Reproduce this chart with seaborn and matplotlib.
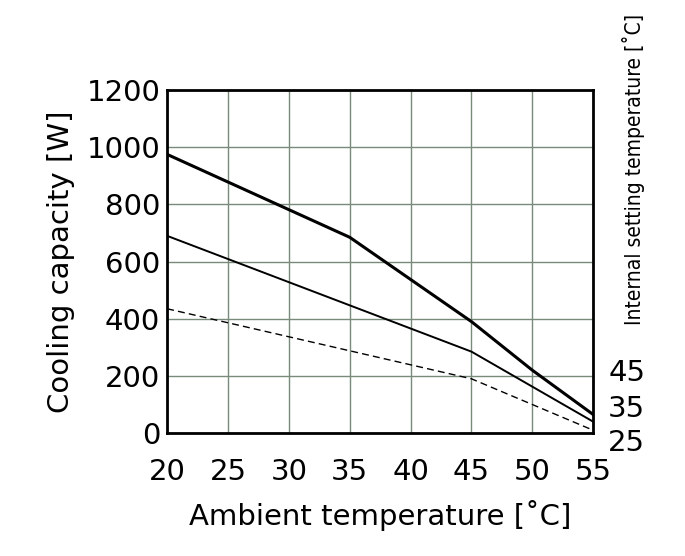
import matplotlib
matplotlib.use("Agg")
import matplotlib.pyplot as plt
import seaborn as sns
import pandas as pd

# data
ambient = [20, 35, 45, 50, 55]
cap_45 = [975, 685, 390, 220, 65]
ambient_mid = [20, 45, 55]
cap_35 = [690, 285, 40]
cap_25 = [435, 190, 10]
set_labels = ["45", "35", "25"]

sns.set_style("white")
plt.rcParams["font.family"] = "DejaVu Sans"
plt.rcParams["text.color"] = "black"
plt.rcParams["xtick.color"] = "black"
plt.rcParams["ytick.color"] = "black"
plt.rcParams["axes.labelcolor"] = "black"

fig = plt.figure(figsize=(6.85, 5.56), dpi=100)
ax = fig.add_axes([0.244, 0.221, 0.622, 0.617])

df45 = pd.DataFrame({"x": ambient, "y": cap_45})
df35 = pd.DataFrame({"x": ambient_mid, "y": cap_35})
df25 = pd.DataFrame({"x": ambient_mid, "y": cap_25})
sns.lineplot(data=df45, x="x", y="y", ax=ax, color="black", lw=2.2)
sns.lineplot(data=df35, x="x", y="y", ax=ax, color="black", lw=1.4)
sns.lineplot(data=df25, x="x", y="y", ax=ax, color="black", lw=1.0, linestyle=(0, (5, 3)))

ax.set_xlim(20, 55)
ax.set_ylim(0, 1200)
ax.set_xticks(range(20, 56, 5))
ax.set_yticks(range(0, 1201, 200))
ax.grid(True, color="#7a8a7a", lw=1.0)
for s in ax.spines.values():
    s.set_color("black")
    s.set_linewidth(2)
ax.tick_params(labelsize=21, length=0)
ax.tick_params(axis="x", pad=18)
ax.tick_params(axis="y", pad=5)
ax.set_xlabel("Ambient temperature [˚C]", fontsize=21, labelpad=10)
ax.set_ylabel("Cooling capacity [W]", fontsize=21, labelpad=8)

# right-side labels for internal setting temperature
for lab, yv in zip(set_labels, [210, 85, -35]):
    ax.text(1.035, yv, lab, transform=ax.get_yaxis_transform(), fontsize=21, va="center", ha="left")
fig.text(0.925, 0.975, "Internal setting temperature [˚C]", rotation=90, fontsize=15,
         va="top", ha="center", fontstretch="condensed")

fig.savefig("out.png", dpi=100)
